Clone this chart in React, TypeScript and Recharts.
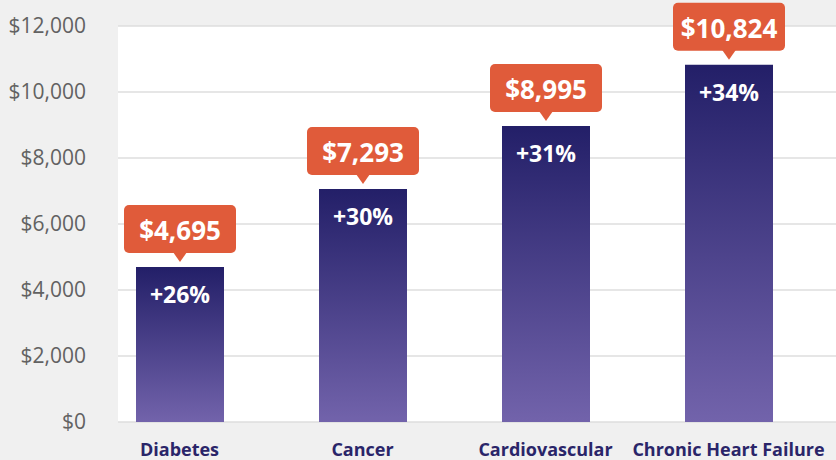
import { BarChart, Bar, XAxis, YAxis, CartesianGrid, LabelList } from "recharts";

const categories = ["Diabetes", "Cancer", "Cardiovascular", "Chronic Heart Failure"];
// values printed in the callouts
const costs = [4695, 7293, 8995, 10824];
// bar heights as drawn in the picture (Cancer bar sits lower than its label)
const barHeights = [4695, 7060, 8970, 10824];
const growth = ["+26%", "+30%", "+31%", "+34%"];
const yTicks = [0, 2000, 4000, 6000, 8000, 10000, 12000];

const data = categories.map((name, i) => ({
  name,
  height: barHeights[i],
  cost: costs[i],
  growth: growth[i],
}));

const FONT = "'Open Sans', sans-serif";
const ORANGE = "#e05b3a";
const NAVY = "#2a2569";

const money = (v: number) => "$" + v.toLocaleString("en-US");

function Callout(props: any) {
  const { x, y, width, value } = props;
  const cx = x + width / 2;
  const w = 112;
  const h = 48;
  const bottom = y - 14;
  const top = bottom - h;
  return (
    <g>
      <rect x={cx - w / 2} y={top} width={w} height={h} rx={5} fill={ORANGE} />
      <path d={`M${cx - 7},${bottom - 1} L${cx + 7},${bottom - 1} L${cx},${y - 5} Z`} fill={ORANGE} />
      <text
        x={cx}
        y={top + h / 2 + 1}
        textAnchor="middle"
        dominantBaseline="central"
        fill="#fff"
        fontFamily={FONT}
        fontWeight={700}
        fontSize={26}
      >
        {money(value)}
      </text>
    </g>
  );
}

function GrowthLabel(props: any) {
  const { x, y, width, value } = props;
  return (
    <text
      x={x + width / 2}
      y={y + 27}
      textAnchor="middle"
      dominantBaseline="central"
      fill="#fff"
      fontFamily={FONT}
      fontWeight={700}
      fontSize={23}
    >
      {value}
    </text>
  );
}

export default function App() {
  return (
    <div
      style={{
        position: "fixed",
        left: 0,
        top: 0,
        width: 836,
        height: 460,
        background: "#f0f0f0",
        overflow: "hidden",
      }}
    >
      <BarChart width={836} height={460} data={data} margin={{ top: 26, right: 0, left: 0, bottom: 0 }}>
        <defs>
          <linearGradient id="barFill" x1="0" y1="0" x2="0" y2="1">
            <stop offset="0%" stopColor="#231f68" />
            <stop offset="100%" stopColor="#7263ab" />
          </linearGradient>
        </defs>
        <CartesianGrid vertical={false} fill="#ffffff" stroke="#dedede" strokeWidth={1.5} />
        <XAxis
          dataKey="name"
          axisLine={false}
          tickLine={false}
          height={38}
          tickMargin={15}
          padding={{ left: -30, right: 16 }}
          interval={0}
          tick={{ fontSize: 18, fontWeight: 700, fill: NAVY, fontFamily: FONT }}
        />
        <YAxis
          width={118}
          domain={[0, 12000]}
          ticks={yTicks}
          axisLine={false}
          tickLine={false}
          tickMargin={26}
          tickFormatter={money}
          tick={{ fontSize: 21, fill: "#626262", fontFamily: FONT }}
        />
        <Bar dataKey="height" fill="url(#barFill)" barSize={88} isAnimationActive={false}>
          <LabelList dataKey="cost" content={Callout} />
          <LabelList dataKey="growth" content={GrowthLabel} />
        </Bar>
      </BarChart>
    </div>
  );
}
